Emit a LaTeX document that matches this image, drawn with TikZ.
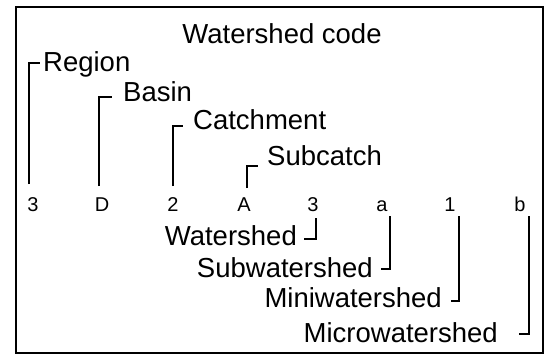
\documentclass[tikz,border=0pt]{standalone}
\usepackage{fontspec}
\setmainfont{Liberation Sans}
\begin{document}
\begin{tikzpicture}[x=1pt,y=-1pt,
  lab/.style={inner sep=0pt, anchor=base west, font=\fontsize{27.5}{30}\selectfont},
  labr/.style={inner sep=0pt, anchor=base east, font=\fontsize{27.5}{30}\selectfont},
  dig/.style={inner sep=0pt, anchor=base, font=\fontsize{20}{22}\selectfont},
  brk/.style={line width=1.8pt, line join=miter}]
\useasboundingbox (0,0) rectangle (549,362);
\draw[line width=2.4pt] (16,7) rectangle (543,353);
\node[inner sep=0pt, anchor=base, font=\fontsize{27.5}{30}\selectfont] (title) at (282,43) {Watershed code};
% code digits
\node[dig] (d1) at (33,211) {3};
\node[dig] (d2) at (102,211) {D};
\node[dig] (d3) at (173,211) {2};
\node[dig] (d4) at (244,211) {A};
\node[dig] (d5) at (313,211) {3};
\node[dig] (d6) at (382,211) {a};
\node[dig] (d7) at (450,211) {1};
\node[dig] (d8) at (520,211) {b};
% upper labels
\node[lab] (region) at (43,71) {Region};
\node[lab] (basin) at (123,101) {Basin};
\node[lab] (catch) at (193,129) {Catchment};
\node[lab] (subc) at (267,165) {Subcatch};
% lower labels
\node[labr] (ws) at (297,245) {Watershed};
\node[labr] (sws) at (373,277) {Subwatershed};
\node[labr] (mws) at (442,307) {Miniwatershed};
\node[labr] (cws) at (498,342) {Microwatershed};
% bracket end points
\coordinate (v1) at (29,184);  \coordinate (t1) at (40,63);
\coordinate (v2) at (99,186);  \coordinate (t2) at (112,97);
\coordinate (v3) at (173,186); \coordinate (t3) at (183,126);
\coordinate (v4) at (247,188); \coordinate (t4) at (258,166);
\coordinate (v5) at (316,218); \coordinate (t5) at (304,239);
\coordinate (v6) at (390,216); \coordinate (t6) at (381,269);
\coordinate (v7) at (459,216); \coordinate (t7) at (451,301);
\coordinate (v8) at (529,216); \coordinate (t8) at (519,334);
\foreach \i in {1,...,8} { \draw[brk] (v\i) |- (t\i); }
\end{tikzpicture}
\end{document}
